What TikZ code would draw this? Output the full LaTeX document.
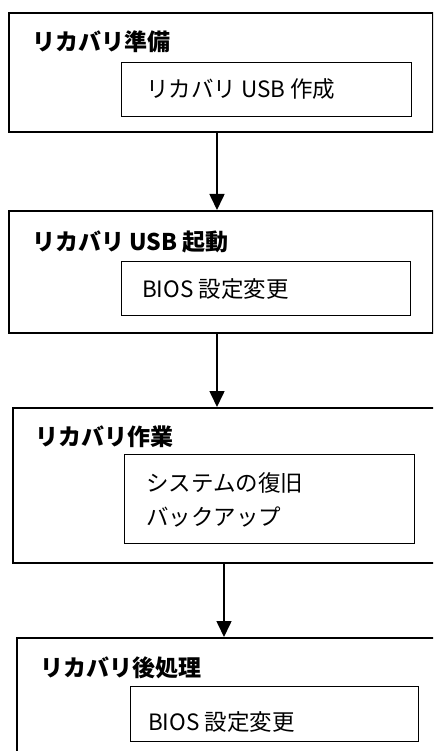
\documentclass[tikz,border=0pt]{standalone}
\usepackage{fontspec}
\newfontfamily\jp{Noto Sans CJK JP}
\usetikzlibrary{arrows.meta}
\tikzset{
  outerbox/.style={draw, line width=1.6pt, anchor=north west, inner sep=0pt},
  innerbox/.style={draw, line width=1.3pt, anchor=north west, inner sep=0pt},
  titletext/.style={anchor=west, inner sep=0pt, font=\jp\bfseries\fontsize{23}{27}\selectfont},
  bodytext/.style={anchor=west, inner sep=0pt, align=left, font=\jp\fontsize{22.5}{34}\selectfont},
  flowarrow/.style={line width=1.6pt, -{Triangle[length=16pt,width=15pt]}}
}
\begin{document}
\begin{tikzpicture}[x=1pt,y=-1pt]
\useasboundingbox (0,0) rectangle (433,751);
\clip (0,0) rectangle (433,751);
% box 1
\node[outerbox, minimum width=424pt, minimum height=119pt] (b1) at (8,12) {};
\node[innerbox, minimum width=290pt, minimum height=54pt] (i1) at (121,62) {};
\node[titletext] (t1) at (32,42) {リカバリ準備};
\node[bodytext] (s1) at (146,89) {リカバリ USB 作成};
% box 2
\node[outerbox, minimum width=424pt, minimum height=122pt] (b2) at (8,210) {};
\node[innerbox, minimum width=289pt, minimum height=54pt] (i2) at (121,261) {};
\node[titletext] (t2) at (32,242) {リカバリ USB 起動};
\node[bodytext] (s2) at (142,289) {BIOS 設定変更};
% box 3
\node[outerbox, minimum width=440pt, minimum height=155pt] (b3) at (12,407) {};
\node[innerbox, minimum width=290pt, minimum height=89pt] (i3) at (124,454) {};
\node[titletext] (t3) at (35,437) {リカバリ作業};
\node[bodytext] (s3) at (146,500) {システムの復旧\\バックアップ};
% box 4
\node[outerbox, minimum width=440pt, minimum height=140pt] (b4) at (16,637) {};
\node[innerbox, minimum width=288pt, minimum height=55pt] (i4) at (130,686) {};
\node[titletext] (t4) at (40,668) {リカバリ後処理};
\node[bodytext] (s4) at (148,722) {BIOS 設定変更};
% arrow x positions
\coordinate (ax1) at (217,0);
\coordinate (ax2) at (217,0);
\coordinate (ax3) at (224,0);
\draw[flowarrow] (b1.south -| ax1) -- (b2.north -| ax1);
\draw[flowarrow] (b2.south -| ax2) -- (b3.north -| ax2);
\draw[flowarrow] (b3.south -| ax3) -- (b4.north -| ax3);
\end{tikzpicture}
\end{document}
